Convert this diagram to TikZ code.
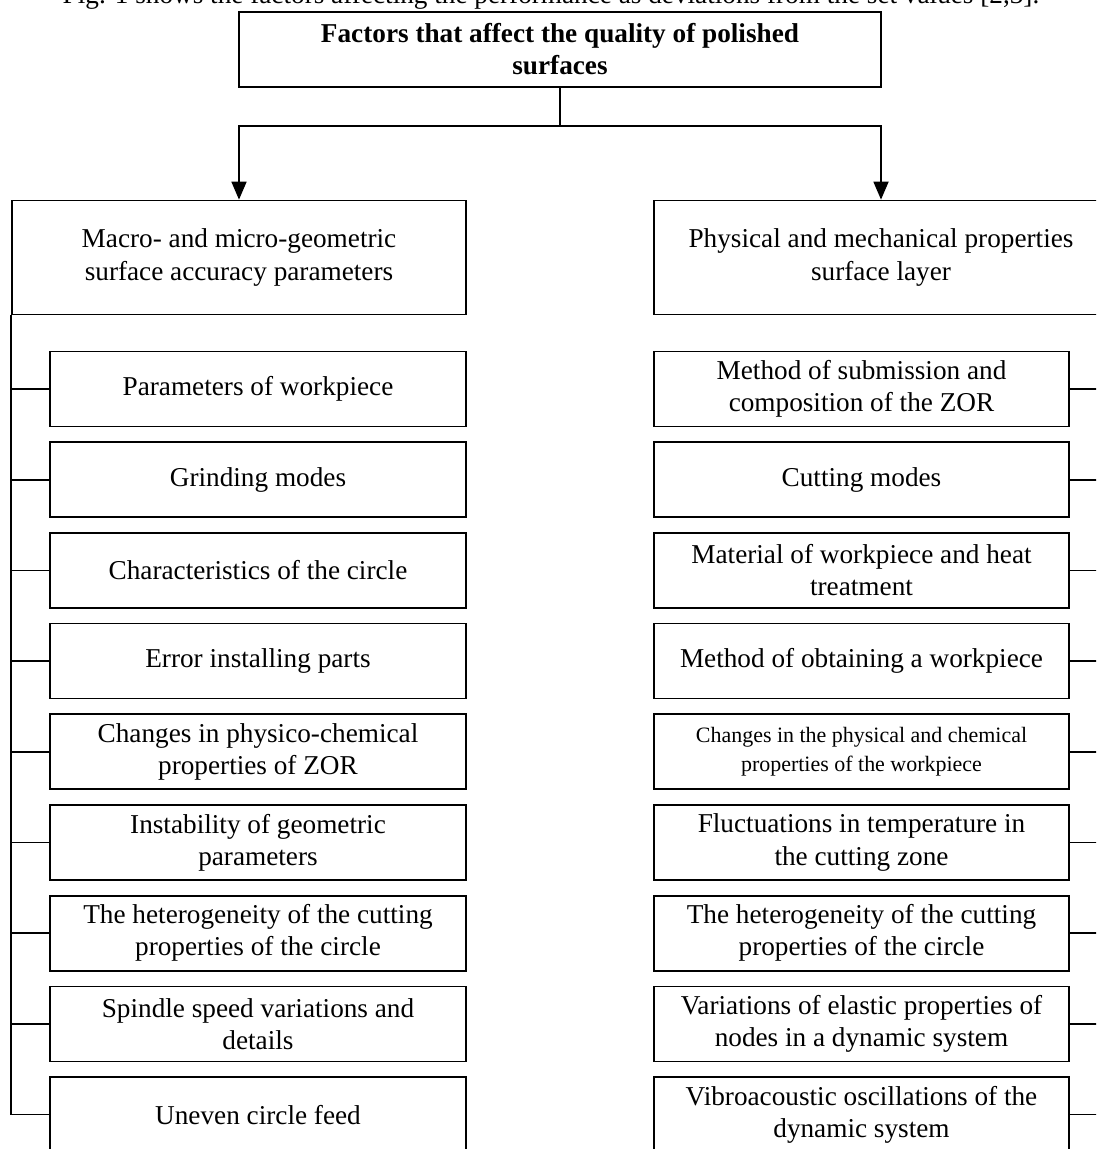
\documentclass[tikz,border=0pt]{standalone}
\usepackage{fontspec}
\setmainfont{Liberation Serif}
\usepackage{tikz}
\usetikzlibrary{arrows.meta}

\begin{document}
\begin{tikzpicture}[x=0.02cm, y=-0.02cm, >={Triangle[length=0.36cm, width=0.3cm]}, font=\fontsize{15.5}{18.3}\selectfont, line width=1pt]
		\tikzset{box/.style={draw, align=center, inner sep=0pt},
			item/.style={box, minimum width=8.31cm, minimum height=1.5cm},
			branch/.style={box, minimum width=9.08cm, minimum height=2.28cm}}
		\useasboundingbox (0,0) rectangle (1096,1149);
		\clip (0,0) rectangle (1096,1149);
		% caption line, cut by the page
		\node[anchor=base] (caption) at (551,4) {Fig. 1 shows the factors affecting the performance as deviations from the set values [2,3].};
		% top
		\node[box, minimum width=12.84cm, minimum height=1.5cm, font=\fontsize{15.5}{18.3}\selectfont\bfseries] (title) at (560,49.5) {Factors that affect the quality of polished\\surfaces};
		\coordinate (split) at (560,126);
		\node[branch] (macro) at (239,257.5) {Macro- and micro-geometric\\surface accuracy parameters};
		\node[branch] (phys) at (881,257.5) {Physical and mechanical properties\\surface layer};
		\draw (title) -- (split);
		\draw[->] (split) -| (macro);
		\draw[->] (split) -| (phys);
		% left column
		\node[item] (l1) at (258,389) {Parameters of workpiece};
		\node[item] (l2) at (258,479.7) {Grinding modes};
		\node[item] (l3) at (258,570.4) {Characteristics of the circle};
		\node[item] (l4) at (258,661.1) {Error installing parts};
		\node[item] (l5) at (258,751.8) {Changes in physico-chemical\\properties of ZOR};
		\node[item] (l6) at (258,842.5) {Instability of geometric\\parameters};
		\node[item] (l7) at (258,933.2) {The heterogeneity of the cutting\\properties of the circle};
		\node[item] (l8) at (258,1023.9) {Spindle speed variations and\\details};
		\node[item] (l9) at (258,1114.6) {Uneven circle feed};
		\draw (macro.south west) |- (l9);
		\draw (l1) -- (l1 -| macro.west);
		\draw (l2) -- (l2 -| macro.west);
		\draw (l3) -- (l3 -| macro.west);
		\draw (l4) -- (l4 -| macro.west);
		\draw (l5) -- (l5 -| macro.west);
		\draw (l6) -- (l6 -| macro.west);
		\draw (l7) -- (l7 -| macro.west);
		\draw (l8) -- (l8 -| macro.west);
		% right column
		\node[item] (r1) at (861.5,389) {Method of submission and\\composition of the ZOR};
		\node[item] (r2) at (861.5,479.7) {Cutting modes};
		\node[item] (r3) at (861.5,570.4) {Material of workpiece and heat\\treatment};
		\node[item] (r4) at (861.5,661.1) {Method of obtaining a workpiece};
		\node[item, font=\fontsize{12.5}{16.3}\selectfont] (r5) at (861.5,751.8) {Changes in the physical and chemical\\properties of the workpiece};
		\node[item] (r6) at (861.5,842.5) {Fluctuations in temperature in\\the cutting zone};
		\node[item] (r7) at (861.5,933.2) {The heterogeneity of the cutting\\properties of the circle};
		\node[item] (r8) at (861.5,1023.9) {Variations of elastic properties of\\nodes in a dynamic system};
		\node[item] (r9) at (861.5,1114.6) {Vibroacoustic oscillations of the\\dynamic system};
		\draw (phys.south east) |- (r9);
		\draw (r1) -- (r1 -| phys.east);
		\draw (r2) -- (r2 -| phys.east);
		\draw (r3) -- (r3 -| phys.east);
		\draw (r4) -- (r4 -| phys.east);
		\draw (r5) -- (r5 -| phys.east);
		\draw (r6) -- (r6 -| phys.east);
		\draw (r7) -- (r7 -| phys.east);
		\draw (r8) -- (r8 -| phys.east);
	\end{tikzpicture}
\end{document}
